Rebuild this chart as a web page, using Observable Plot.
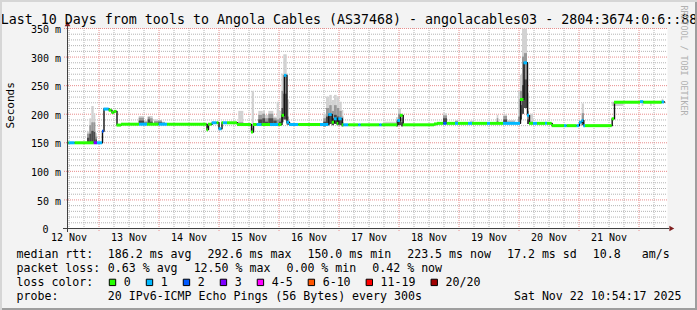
<!DOCTYPE html>
<html><head><meta charset="utf-8">
<script src="https://cdn.jsdelivr.net/npm/d3@7"></script>
<script src="https://cdn.jsdelivr.net/npm/@observablehq/plot@0.6"></script>
<style>
html,body{margin:0;padding:0;background:#f3f3f3;}
#chart{position:relative;width:697px;height:310px;background:#f3f3f3;overflow:hidden;}
#chart svg{position:absolute;left:0;top:0;}
#chart::after{content:"";position:absolute;left:0;top:0;right:0;bottom:0;box-shadow:inset 2px 2px 0 #d6d6d6, inset -2px -2px 0 #9e9e9e;pointer-events:none;}
</style></head>
<body><div id="chart"></div>
<script>
// ---------- data (hours since start of the 10-day window, values in ms) ----------
const medianHour = [0, 0.68, 3.08, 10.68, 12.0, 14.0, 14.6, 16.68, 17.8, 18.68,
  19.8, 21.6, 28.8, 32.0, 36.68, 40.0, 55.8, 56.4, 57.88, 59.88,
  60.6, 61.8, 62.4, 64.0, 68.0, 73.6, 74.4, 75.88, 77.88, 81.2,
  84.52, 85.8, 86.8, 87.8, 88.8, 92.52, 101.2, 104.52, 105.88, 106.8,
  107.88, 108.52, 109.88, 110.52, 112.52, 116.52, 117.48, 124.92, 125.88, 132.12,
  133.2, 134.28, 146.8, 148.0, 150.52, 151.88, 155.2, 156.4, 160.4, 162.0,
  168.0, 169.2, 174.4, 181.2, 182.6, 184.0, 184.8, 186.4, 188.0, 191.2,
  192.0, 193.88, 198.8, 199.88, 203.88, 204.8, 205.88, 206.52, 207.2, 217.88,
  218.8, 229.2, 230.52, 237.88, 238.8];
const medianMs = [150, 150, 150, 150, 150, 170, 209, 207, 203, 205,
  181, 182.5, 182.5, 182.5, 182.5, 182.5, 173, 182.5, 185, 185,
  174.5, 185, 185, 185, 182, 169, 182, 182, 182, 182,
  182, 198, 268, 186, 182, 182, 182, 199.5, 186, 192,
  184, 192, 181.5, 181.5, 181.5, 181.5, 181.5, 181.5, 181.5, 189,
  198, 181.5, 183, 184, 184, 184, 184, 184, 184, 184,
  184, 184, 184, 225.8, 290, 198, 184, 184, 184, 184,
  184, 180, 180, 180, 180, 186, 189, 180, 180, 192,
  221, 222, 221, 221.5, 221.5];
const medianLoss = [0,1,0,3,1,2,1,0,0,0, 0,0,1,0,1,0,0,0,1,0, 1,0,1,0,0,0,0,1,0,1,
  0,0,1,1,1,0,1,1,0,1, 0,1,0,1,0,1,0,1,0,1, 0,0,0,0,2,0,1,0,1,0,
  1,0,1,0,1,1,0,1,0,1, 0,0,1,0,1,1,1,1,0,0, 0,1,0,1,1];

const smokeStart = [8.0, 8.92, 9.72, 10.68, 11.32, 28.68, 30.8, 32.28, 33.2, 34.8, 36.4, 38.0,
  68.52, 73.88, 76.52, 78.12, 79.2, 80.52, 82.52, 83.88, 84.8, 85.8, 86.52, 87.88,
  102.52, 103.6, 104.92, 105.88, 106.8, 107.88, 108.92, 109.88, 126.4, 131.6, 132.4, 133.6,
  150.4, 155.2, 161.2, 171.88, 174.52, 176.0, 180.4, 181.2, 182.0, 182.8, 184.0, 185.2,
  205.88, 217.88, 229.88, 233.2, 237.88];
const smokeEnd = [8.92, 9.72, 10.68, 11.32, 12.0, 30.8, 32.28, 33.2, 34.28, 36.4, 38.0, 39.2,
  70.52, 74.8, 78.12, 79.2, 80.52, 82.52, 83.88, 84.8, 85.8, 86.52, 87.88, 88.8,
  103.6, 104.92, 105.88, 106.8, 107.88, 108.92, 109.88, 110.52, 131.6, 132.4, 133.6, 134.4,
  152.0, 156.4, 162.8, 172.52, 176.0, 179.2, 181.2, 182.0, 182.8, 184.0, 184.8, 186.4,
  206.8, 222.52, 230.52, 233.88, 238.52];
const smokeLow = [150, 150, 150, 150, 150, 181, 181, 181, 181, 181, 181, 181,
  181, 168, 180, 180, 180, 180, 180, 180, 181, 185, 190, 181,
  178, 180, 182, 180, 182, 180, 180, 178, 180, 178, 180, 178,
  182, 182, 182, 182, 182, 182, 182, 190, 200, 210, 182, 182,
  180, 213.5, 213.5, 213.5, 219];
const smokeCore = [158, 165, 170, 168, 155, 188, 184, 190, 186, 184, 185, 183,
  181, 168, 190, 192, 186, 192, 188, 182, 186, 210, 235, 186,
  186, 195, 200, 192, 198, 195, 192, 185, 180, 182, 190, 185,
  192, 185, 182, 186, 190, 184, 184, 215, 250, 260, 190, 182,
  186, 213.5, 213.5, 213.5, 219];
const smokeMid = [165, 180, 185, 185, 160, 193, 186, 194, 192, 187, 188, 185,
  185, 175, 198, 200, 192, 200, 192, 190, 192, 240, 268, 195,
  192, 210, 215, 205, 215, 210, 205, 195, 181, 188, 200, 192,
  197, 187, 184, 192, 196, 186, 195, 240, 300, 306, 205, 186,
  201, 213.5, 213.5, 213.5, 219];
const smokeHigh = [169, 192, 213.5, 201, 166, 196, 188, 196, 196, 190, 189, 186,
  205, 240, 205, 205, 198, 205, 195, 221, 205, 270, 304, 225,
  200, 230, 233, 224, 233, 230, 221, 206.5, 186, 194, 209.5, 200,
  200.7, 189, 188, 198, 199, 189, 240, 268, 349, 349, 236, 200,
  218, 221, 221, 221, 226];

const xTickLabels = ["12 Nov","13 Nov","14 Nov","15 Nov","16 Nov","17 Nov","18 Nov","19 Nov","20 Nov","21 Nov"];
const yTicks = [0, 50, 100, 150, 200, 250, 300, 350];

const lossLabels = ["0","1","2","3","4-5","6-10","11-19","20/20"];
const lossColors = ["#26ff00","#00b8ff","#0059ff","#7e00ff","#ff00ff","#ff5500","#ff0000","#a00000"];

const titleText = "Last 10 Days from tools to Angola Cables (AS37468) - angolacables03 - 2804:3674:0:6::88";
const rttStats = ["186.2 ms avg","292.6 ms max","150.0 ms min","223.5 ms now","17.2 ms sd","10.8\u00a0\u00a0\u00a0am/s"];
const lossStats = ["0.63 % avg","12.50 % max","0.00 % min","0.42 % now"];
const probeText = "20 IPv6-ICMP Echo Pings (56 Bytes) every 300s";
const stampText = "Sat Nov 22 10:54:17 2025";

// ---------- build rows ----------
const medianRows = medianHour.map((h, i) => ({h, v: medianMs[i], cls: medianLoss[i]}));
const segRows = medianRows.slice(0, -1).map((d, i) => ({h0: d.h, h1: medianRows[i + 1].h, v: d.v, cls: d.cls}));
const smokeRows = smokeStart.map((s, i) => ({h0: s, h1: smokeEnd[i], lo: smokeLow[i], core: smokeCore[i], mid: smokeMid[i], hi: smokeHigh[i]}));

// ---------- layout ----------
const W = 697, H = 310, ML = 67, MR = 30, MT = 28, MB = 82;
const firstNoon = 0.6;            // hours from window start to first noon
const noonTicks = xTickLabels.map((_, i) => firstNoon + 24 * i);
const midnights = xTickLabels.map((_, i) => firstNoon + 12 + 24 * i);
const sixHour = d3.range(0, 40).map(k => firstNoon + 6 * k).filter(h => h <= 240 && !midnights.some(m => Math.abs(m - h) < 1e-6));
const yMinor = d3.range(10, 350, 10).filter(v => v % 50 !== 0);
const yMajor = yTicks.filter(v => v > 0);

const LEG = 11.6, CW = 0.602 * LEG;
function fixedText(str, x, baseline, opts = {}) {
  return Plot.text([str], {text: d => d, frameAnchor: "top-left", dx: x - ML, dy: baseline - MT,
    lineAnchor: "bottom", textAnchor: "start", fontSize: LEG, fill: "#000", ...opts});
}
const rowBase = [257.7, 271.6, 285.6, 299.5];
const colStart = 107.3, itemGap = 16;
const legendMarks = [];
legendMarks.push(fixedText("median rtt:", 16, rowBase[0]));
let x = colStart;
rttStats.forEach(s => { legendMarks.push(fixedText(s, x, rowBase[0])); x += s.length * CW + itemGap; });
legendMarks.push(fixedText("packet loss:", 16, rowBase[1]));
x = colStart;
lossStats.forEach(s => { legendMarks.push(fixedText(s, x, rowBase[1])); x += s.length * CW + itemGap; });
legendMarks.push(fixedText("loss color:", 16, rowBase[2]));
x = 108.3;
lossLabels.forEach((lab, i) => {
  legendMarks.push(Plot.dot([lab], {frameAnchor: "top-left", dx: x + 3.7 - ML, dy: rowBase[2] - 3.7 - MT,
    symbol: "square", r: 3.6, fill: lossColors[i], stroke: "#000", strokeWidth: 1}));
  legendMarks.push(fixedText(lab, x + 15, rowBase[2]));
  x += 15 + lab.length * CW + 15;
});
legendMarks.push(fixedText("probe:", 16, rowBase[3]));
legendMarks.push(fixedText(probeText, colStart, rowBase[3]));
legendMarks.push(fixedText(stampText, 681, rowBase[3], {textAnchor: "end"}));

const axisColor = "#404040", arrowColor = "#7f1f1f";
const minorGrid = {stroke: "#b4b4b4", strokeDasharray: "1,1", strokeWidth: 1};
const majorGrid = {stroke: "#e88c8c", strokeDasharray: "1,1", strokeWidth: 1};

const chart = Plot.plot({
  width: W, height: H, marginLeft: ML, marginRight: MR, marginTop: MT, marginBottom: MB,
  style: {background: "transparent", fontFamily: "'DejaVu Sans Mono', monospace", fontSize: "10px", color: "#000", overflow: "visible"},
  x: {type: "linear", domain: [0, 240]},
  y: {type: "linear", domain: [0, 350]},
  color: {type: "ordinal", domain: d3.range(lossColors.length), range: lossColors},
  marks: [
    Plot.frame({fill: "#fff", stroke: "none"}),
    Plot.ruleY(yMinor, minorGrid),
    Plot.ruleX(sixHour, minorGrid),
    Plot.ruleY(yMajor, {...majorGrid, insetLeft: -3}),
    Plot.ruleX(midnights, {...majorGrid, insetBottom: -3}),
    // smoke
    Plot.rect(smokeRows, {x1: "h0", x2: "h1", y1: "lo", y2: "hi", fill: "#d2d2d2"}),
    Plot.rect(smokeRows, {x1: "h0", x2: "h1", y1: "lo", y2: "mid", fill: "#989898"}),
    Plot.rect(smokeRows, {x1: "h0", x2: "h1", y1: "lo", y2: "core", fill: "#4a4a4a"}),
    // median
    Plot.line(medianRows, {x: "h", y: "v", curve: "step-after", stroke: "#111", strokeWidth: 1.4}),
    Plot.ruleY(segRows, {y: "v", x1: "h0", x2: "h1", stroke: "cls", strokeWidth: 3}),
    // axes
    Plot.axisY(yMajor, {tickSize: 0, tickPadding: 6.5, tickFormat: d => `${d} m`, fontSize: 10, dy: 1.5, label: null, fill: "#000"}),
    Plot.axisY([0], {tickSize: 0, tickPadding: 19, tickFormat: d => `${d}`, fontSize: 10, dy: 1.5, label: null, fill: "#000"}),
    Plot.axisX(noonTicks, {tickSize: 0, tickPadding: 5.6, tickFormat: d => xTickLabels[noonTicks.indexOf(d)], fontSize: 10, label: null, fill: "#000"}),
    Plot.ruleX([0], {stroke: axisColor, insetTop: -5, insetBottom: -4}),
    Plot.ruleY([0], {stroke: axisColor, insetLeft: -4, insetRight: -2}),
    Plot.dot([0], {x: 0, frameAnchor: "top", dy: -4, symbol: "triangle", r: 2.1, fill: arrowColor}),
    Plot.dot([0], {y: 0, frameAnchor: "right", dx: 3.5, symbol: "triangle", rotate: 90, r: 2.1, fill: arrowColor}),
    // titles
    Plot.text([titleText], {text: d => d, frameAnchor: "top-left", dx: 348.5 - ML, dy: 23 - MT, lineAnchor: "bottom", textAnchor: "middle", fontSize: 13.3, fill: "#000"}),
    Plot.text(["Seconds"], {text: d => d, frameAnchor: "left", dx: 10 - ML, rotate: -90, fontSize: 11, fill: "#000"}),
    Plot.text(["RRDTOOL / TOBI OETIKER"], {text: d => d, frameAnchor: "top-right", dx: 686.5 - (W - MR), dy: 5 - MT, rotate: 90, textAnchor: "start", fontSize: 8.3, fill: "#b0b0b0"}),
    ...legendMarks
  ]
});
document.getElementById("chart").appendChild(chart);
</script>
</body></html>
